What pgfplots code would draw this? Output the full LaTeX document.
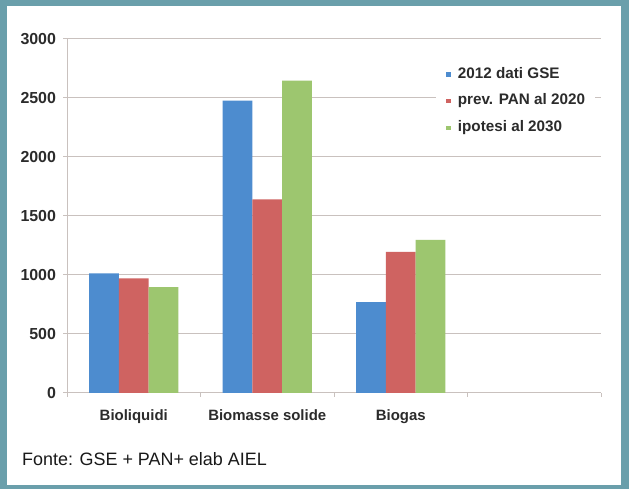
\documentclass[border=0pt]{standalone}
\usepackage{fontspec}
\setmainfont{Liberation Sans}
\usepackage{pgfplots}
\pgfplotsset{compat=1.18}
\definecolor{frameteal}{HTML}{6A9FAB}
\definecolor{gridc}{HTML}{C9C1BE}
\definecolor{cblue}{HTML}{4D8CCF}
\definecolor{cred}{HTML}{CF6361}
\definecolor{cgreen}{HTML}{9DC66F}
\definecolor{txt}{HTML}{2B2B2B}
\begin{document}
\begin{tikzpicture}
\fill[frameteal] (0,0) rectangle (629bp,489bp);
\fill[white] (7bp,4bp) rectangle (621bp,483bp);
\useasboundingbox (0,0) rectangle (629bp,489bp);
\node[anchor=base west, font=\fontsize{18}{21}\selectfont, text=black!90, inner sep=0pt] at (22bp,24bp) {Fonte: GSE + PAN+ elab AIEL};
\begin{axis}[
 at={(67bp,96bp)}, anchor=south west, scale only axis, width=534bp, height=354bp,
 xmin=-0.5, xmax=3.5, ymin=0, ymax=3000,
 ybar=0pt, bar width=29.7bp,
 axis x line*=bottom, axis y line*=left,
 axis line style={draw=gridc, line width=1bp, -},
 ymajorgrids, grid style={draw=gridc, line width=1bp},
 ytick={0,500,...,3000},
 xtick={0,1,2}, xticklabels={Bioliquidi, Biomasse solide, Biogas},
 minor xtick={-0.5,0.5,1.5,2.5,3.5},
 tick align=outside, major tick length=4bp, minor tick length=4bp,
 major x tick style={draw=none},
 ytick style={draw=gridc, line width=1bp},
 minor tick style={draw=gridc, line width=1bp},
 tick label style={text=txt},
 /pgf/number format/assume math mode=true,
 /pgf/number format/set thousands separator={},
 yticklabel style={font=\bfseries\fontsize{16}{19}\selectfont, xshift=-3.5bp},
 xticklabel style={font=\bfseries\fontsize{15}{18}\selectfont, yshift=-9bp},
 legend cell align=left,
 legend image code/.code={\fill[#1] (0bp,-2.5bp) rectangle (5.5bp,2bp);},
 legend style={at={(rel axis cs:0.6905,0.949)}, anchor=north west, draw=none, fill=white,
   inner sep=10bp, font=\bfseries\fontsize{15.3}{18}\selectfont, text=txt,
   row sep=12.7bp, column sep=6.5bp,
   nodes={inner sep=0pt, text height=10.8bp, text depth=3.2bp}},
]
\addplot[fill=cblue, draw=none] coordinates {(0,1014) (1,2477) (2,771)};
\addplot[fill=cred, draw=none] coordinates {(0,972) (1,1641) (2,1197)};
\addplot[fill=cgreen, draw=none] coordinates {(0,898) (1,2647) (2,1298)};
\legend{2012 dati GSE, prev. PAN al 2020, ipotesi al 2030}
\end{axis}
\end{tikzpicture}
\end{document}
